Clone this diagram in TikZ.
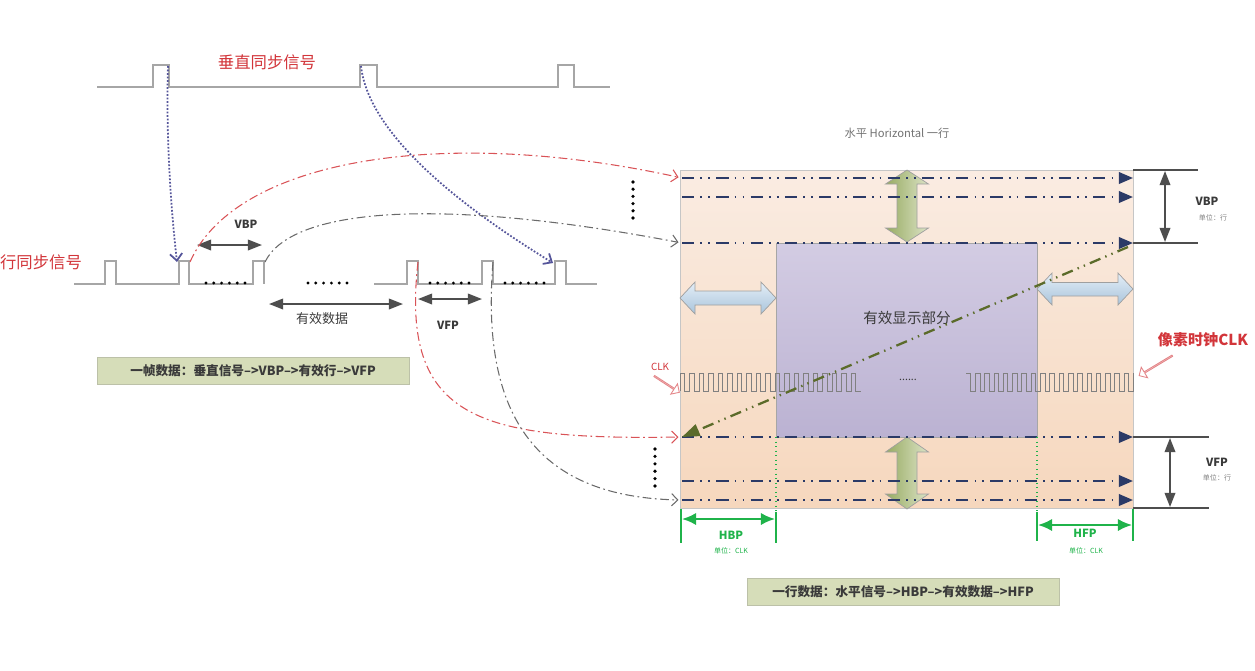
\documentclass[tikz,border=0pt]{standalone}
\usepackage{fontspec}
\setmainfont{Noto Sans CJK SC}
\usetikzlibrary{arrows.meta,shapes.arrows}
\definecolor{sigred}{HTML}{D2353A}
\definecolor{wavegray}{HTML}{A6A6A6}
\definecolor{navy}{HTML}{2B3A67}
\definecolor{peachtop}{HTML}{FAECE2}
\definecolor{peachbot}{HTML}{F6D7BD}
\definecolor{lavtop}{HTML}{D3CCE3}
\definecolor{lavbot}{HTML}{BBB2D2}
\definecolor{dimgreen}{HTML}{1FB34A}
\definecolor{olive}{HTML}{5B6B2A}
\definecolor{boxgreen}{HTML}{D6DDB9}
\definecolor{dotpurple}{HTML}{55559A}
\definecolor{conngray}{HTML}{6A6A6A}
\definecolor{textgray}{HTML}{3A3A3A}
\definecolor{greendark}{HTML}{97AB62}
\definecolor{greenlight}{HTML}{DCE3C6}
\definecolor{bluelight}{HTML}{E4EEF7}
\definecolor{bluedark}{HTML}{A9C4DB}
\tikzset{wave/.style={draw=wavegray,line width=0.6pt},
  clkwave/.style={draw=gray,line width=0.45pt},
  sigtitle/.style={text=sigred,font=\fontsize{9.3pt}{11pt}\selectfont,inner sep=0pt},
  dimtext/.style={text=textgray,font=\fontsize{6.4pt}{8pt}\selectfont\bfseries,inner sep=0pt},
  unittext/.style={text=gray,font=\fontsize{4pt}{5pt}\selectfont,inner sep=0pt},
  plaintext/.style={text=textgray,font=\fontsize{7.4pt}{9pt}\selectfont,inner sep=0pt},
  infobox/.style={fill=boxgreen,draw=boxgreen!70!gray,line width=0.3pt,minimum width=6.24cm,minimum height=0.55cm,font=\fontsize{7.2pt}{9pt}\selectfont\bfseries,text=textgray},
  rowline/.style={navy,line width=1.3pt,dash pattern=on 7pt off 3.5pt on 1pt off 3.5pt on 1pt off 3.5pt,-{Triangle[length=8pt,width=6.5pt]}},
  diagarr/.style={olive,line width=1.3pt,dash pattern=on 6.5pt off 3pt on 0.8pt off 3pt on 0.8pt off 3pt,-{Triangle[length=10pt,width=7pt]}},
  redconn/.style={sigred!85,line width=0.6pt,dash pattern=on 5pt off 2pt on 1pt off 2pt,-{Straight Barb[length=3.5pt,width=7pt]}},
  grayconn/.style={conngray,line width=0.6pt,dash pattern=on 5pt off 2pt on 1pt off 2pt,-{Straight Barb[length=3.5pt,width=7pt]}},
  syncarr/.style={dotpurple,line width=1pt,dash pattern=on 1pt off 1pt,-{Straight Barb[length=4pt,width=7pt]}},
  darr/.style={draw=textgray!90,line width=1pt,{Triangle[length=8pt,width=6pt]}-{Triangle[length=8pt,width=6pt]}},
  dimline/.style={draw=textgray!90,line width=1pt},
  greenline/.style={draw=dimgreen,line width=1pt},
  greenarr/.style={draw=dimgreen,line width=1.2pt,{Latex[length=8pt,width=7pt]}-{Latex[length=8pt,width=7pt]}},
  greenblock/.style={left color=greendark,right color=greenlight,draw=gray!75,line width=0.4pt},
  blueblock/.style={top color=bluelight,bottom color=bluedark,draw=gray!75,line width=0.4pt},
  ptrarrow/.style={single arrow,draw=sigred!60,fill=white,minimum width=7pt,single arrow head extend=2pt,inner sep=0pt,line width=0.5pt}}
\begin{document}
\begin{tikzpicture}[x=0.02cm,y=-0.02cm]
\useasboundingbox (0,0) rectangle (1255,670);

% vertical sync
\draw[wave] (97,87) -| (153,65) -| (169,87) -| (360,65) -| (377,87) -| (558,65) -| (574,87) -- (610,87);
\node[sigtitle] (vsync) at (267,62) {垂直同步信号};

% line sync
\node[sigtitle] (hsync) at (41,262) {行同步信号};
\draw[wave] (74,284) -| (105,261) -| (116,284) -| (179,261) -| (189,284) -| (253,261) -| (264,284);
\draw[wave] (374,284) -| (407,261) -| (418,284) -| (482,261) -| (493,284) -| (555,261) -| (566,284) -- (597,284);
\foreach \x in {206,308,430,505}
  \foreach \k in {0,...,5}
    \fill (\x+7.8*\k,283) circle (1.6);

\draw[darr] (197,245) -- (262,245);
\node[dimtext] (vbpl) at (246,224) {VBP};
\draw[darr] (269,304) -- (403,304);
\node[plaintext] (datal) at (322,319) {有效数据};
\draw[darr] (418,299) -- (482,299);
\node[dimtext] (vfpl) at (448,325) {VFP};

\node[infobox] (framebox) at (253,371) {一帧数据：垂直信号-->VBP-->有效行-->VFP};

% display area
\node[text=gray!90!black,font=\fontsize{6.4pt}{8pt}\selectfont,inner sep=0pt] (htitle) at (897,133) {水平 Horizontal 一行};
\draw[top color=peachtop,bottom color=peachbot,draw=gray!45] (680,170) rectangle (1133,508);
\draw[top color=lavtop,bottom color=lavbot,draw=gray!70] (776,243) rectangle (1037,437);
\node[text=textgray,font=\fontsize{8.3pt}{10pt}\selectfont,inner sep=0pt] (activel) at (907,318) {有效显示部分};

% block arrows
\draw[greenblock] (907,170) -- (928.5,184) -- (917,184) -- (917,228) -- (928.5,228) -- (907,242) -- (885.5,228) -- (897,228) -- (897,184) -- (885.5,184) -- cycle;
\draw[greenblock] (907,437) -- (928.5,452) -- (917,452) -- (917,494) -- (928.5,494) -- (907,509) -- (885.5,494) -- (897,494) -- (897,452) -- (885.5,452) -- cycle;
\draw[blueblock] (680,298) -- (695,282) -- (695,291) -- (761,291) -- (761,282) -- (776,298) -- (761,314) -- (761,305) -- (695,305) -- (695,314) -- cycle;
\draw[blueblock] (1037,289) -- (1052,273) -- (1052,282.5) -- (1118,282.5) -- (1118,273) -- (1133,289) -- (1118,305) -- (1118,296) -- (1052,296) -- (1052,305) -- cycle;

% rows
\foreach \y [count=\i] in {178,197,243,437,481,500} {
  \coordinate (rs\i) at (682,\y);
  \coordinate (re\i) at (1133,\y);
  \draw[rowline] (rs\i) -- (re\i);
}

% pixel clock
\draw[clkwave] (680,391) \foreach \i in {1,...,19} { -- ++(0,-18) -- ++(4.75,0) -- ++(0,18) -- ++(4.75,0) };
\draw[clkwave] (966,373) \foreach \i in {1,...,18} { -- ++(4.65,0) -- ++(0,18) -- ++(4.65,0) -- ++(0,-18) };
\node[text=textgray,font=\fontsize{6pt}{7pt}\selectfont,inner sep=0pt] (clkdots) at (908,380) {......};
\node[text=sigred,font=\fontsize{5.6pt}{7pt}\selectfont,inner sep=0pt] (clkl) at (660,367) {CLK};
\node[ptrarrow,minimum height=17pt,rotate=-33] (ptrl) at (666.5,384) {};
\node[ptrarrow,minimum height=22pt,rotate=211] (ptrr) at (1156,365.5) {};
\node[text=sigred,font=\fontsize{8.6pt}{10pt}\selectfont\bfseries,inner sep=0pt] (pclk) at (1203,340) {像素时钟CLK};

% scan diagonal
\coordinate (dstart) at (1128,247);
\draw[diagarr] (dstart) -- (rs4);

% vertical dims
\draw[dimline] (1133,170) -- (1198,170);
\draw[dimline] (1133,243) -- (1198,243);
\draw[darr] (1165,171) -- (1165,242);
\node[dimtext] (vbpr) at (1207,201) {VBP};
\node[unittext] (vbpu) at (1213,218) {单位：行};
\draw[dimline] (1133,437) -- (1209,437);
\draw[dimline] (1133,508) -- (1209,508);
\draw[darr] (1170,438) -- (1170,507);
\node[dimtext] (vfpr) at (1217,462) {VFP};
\node[unittext] (vfpu) at (1217,478) {单位：行};

% horizontal dims
\draw[dimgreen,line width=0.6pt,dotted] (776,437) -- (776,512);
\draw[dimgreen,line width=0.6pt,dotted] (1037,437) -- (1037,512);
\draw[greenline] (681,509) -- (681,543);
\draw[greenline] (776,512) -- (776,543);
\draw[greenarr] (682,519) -- (775,519);
\node[dimtext,text=dimgreen] (hbpl) at (731,535) {HBP};
\node[unittext,text=dimgreen] (hbpu) at (731,551) {单位：CLK};
\draw[greenline] (1037,512) -- (1037,541);
\draw[greenline] (1133,509) -- (1133,541);
\draw[greenarr] (1038,525) -- (1132,525);
\node[dimtext,text=dimgreen] (hfpl) at (1085,533) {HFP};
\node[unittext,text=dimgreen] (hfpu) at (1086,551) {单位：CLK};

\node[infobox] (linebox) at (903,592) {一行数据：水平信号-->HBP-->有效数据-->HFP};

% ellipsis dots
\foreach \k in {0,...,5} {
  \fill (633,182+7.2*\k) circle (1.8);
  \fill (655,449+7.4*\k) circle (1.8);
}

% sync to line connectors
\coordinate (vs1) at (168,66);
\coordinate (vs2) at (361,66);
\coordinate (hsa) at (177,262);
\coordinate (hsb) at (553,263);
\coordinate (hsc) at (190,262);
\coordinate (hsd) at (265,262);
\coordinate (hse) at (418,262);
\coordinate (hsf) at (493,262);
\draw[syncarr] (vs1) .. controls (166,130) and (170,200) .. (hsa);
\draw[syncarr] (vs2) .. controls (368,130) and (450,200) .. (hsb);
\draw[redconn,shorten >=2pt] (hsc) .. controls (235,160) and (440,125) .. (rs1);
\draw[grayconn,shorten >=2pt] (hsd) .. controls (290,210) and (430,195) .. (rs3);
\draw[redconn,shorten >=2pt] (hse) .. controls (400,420) and (480,440) .. (rs4);
\draw[grayconn,shorten >=2pt] (hsf) .. controls (480,420) and (540,497) .. (rs6);
\end{tikzpicture}
\end{document}
